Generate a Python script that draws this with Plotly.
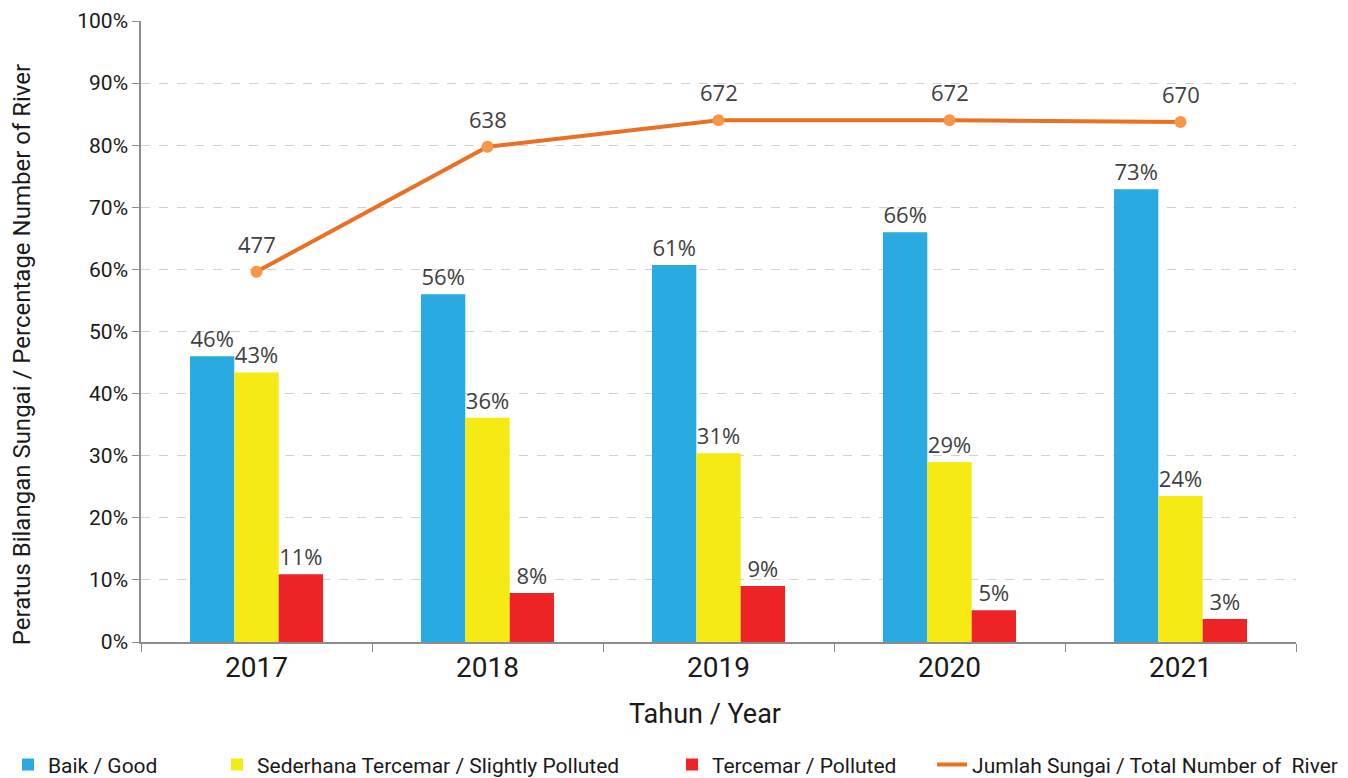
import plotly.graph_objects as go

years = ["2017", "2018", "2019", "2020", "2021"]
good = [46.0, 56.0, 60.7, 66.0, 72.9]
slight = [43.4, 36.1, 30.4, 29.0, 23.5]
polluted = [10.9, 7.9, 9.0, 5.1, 3.7]
good_lbl = ["46%", "56%", "61%", "66%", "73%"]
slight_lbl = ["43%", "36%", "31%", "29%", "24%"]
polluted_lbl = ["11%", "8%", "9%", "5%", "3%"]
total = [477, 638, 672, 672, 670]
y_ticks = [0, 10, 20, 30, 40, 50, 60, 70, 80, 90, 100]

label_font = dict(family="Open Sans", size=22, color="#404040")
cond = "Roboto, sans-serif"
dark = "#1a1a1a"
W, H = 1340, 770  # page body adds an 8px offset

fig = go.Figure()
series = [
    ("Baik / Good", good, good_lbl, "#29ABE2", "legend"),
    ("Sederhana Tercemar / Slightly Polluted", slight, slight_lbl, "#F5EA14", "legend2"),
    ("Tercemar / Polluted", polluted, polluted_lbl, "#EE2326", "legend3"),
]
for name, vals, lbls, col, lg in series:
    fig.add_trace(go.Bar(
        x=years, y=vals, name=name, text=lbls, textposition="outside",
        textfont=label_font, marker=dict(color=col, line=dict(width=0)),
        cliponaxis=False, hoverinfo="skip", legend=lg,
    ))

fig.add_trace(go.Scatter(
    x=years, y=total, name="Jumlah Sungai / Total Number of  River", yaxis="y2",
    mode="lines", legend="legend4",
    line=dict(color="#E87126", width=4),
    cliponaxis=False,
))
fig.add_trace(go.Scatter(
    x=years, y=total, name="Jumlah Sungai / Total Number of  River", yaxis="y2",
    mode="markers", showlegend=False,
    marker=dict(color="#F79646", size=12),
    cliponaxis=False,
))

# value labels above the line points (category index of each year)
for i, v in enumerate(total):
    fig.add_annotation(x=i, y=v, xref="x", yref="y2", text=str(v), showarrow=False,
                       yshift=28, font=label_font)

fig.add_annotation(text="Peratus Bilangan Sungai / Percentage Number of River",
                   xref="paper", yref="paper", x=-0.103, y=0.462, textangle=-90,
                   showarrow=False, xanchor="center", yanchor="middle",
                   font=dict(family=cond, size=24, color=dark))
fig.add_annotation(text="Tahun / Year", xref="paper", yref="paper", x=0.488, y=-0.116,
                   showarrow=False, xanchor="center", yanchor="middle",
                   font=dict(family=cond, size=27, color=dark))

leg_common = dict(orientation="h", xanchor="left", xref="container", yref="container",
                  y=0.017, yanchor="middle", font=dict(family=cond, size=21, color=dark),
                  itemwidth=30, bgcolor="rgba(0,0,0,0)")

fig.update_layout(
    width=W, height=H,
    margin=dict(l=133, r=52, t=13, b=136, autoexpand=False),
    plot_bgcolor="white", paper_bgcolor="white",
    barmode="group", bargap=0.424, bargroupgap=0,
    showlegend=True,
    legend=dict(x=0.0, **leg_common),
    legend2=dict(x=0.156, **leg_common),
    legend3=dict(x=0.4955, **leg_common),
    legend4=dict(x=0.6896, **leg_common),
    xaxis=dict(
        type="category", categoryorder="array", categoryarray=years,
        range=[-0.5, len(years) - 0.5], autorange=False,
        showline=True, linecolor="#8c8c8c", linewidth=1.5, automargin=False,
        ticks="outside", tickson="boundaries", ticklen=8, tickcolor="#8c8c8c",
        tickfont=dict(family=cond, size=28, color=dark),
    ),
    yaxis=dict(
        range=[0, 100], tickvals=y_ticks, ticktext=[f"{v}%" for v in y_ticks],
        showline=True, linecolor="#8c8c8c", linewidth=1.5, automargin=False,
        ticks="outside", ticklen=7, tickcolor="#8c8c8c",
        showgrid=True, gridcolor="#d0d0d0", griddash="dash", gridwidth=1,
        zeroline=False,
        tickfont=dict(family=cond, size=21, color=dark),
    ),
    yaxis2=dict(range=[0, 800], overlaying="y", visible=False),
)

fig.write_html("out.html")
